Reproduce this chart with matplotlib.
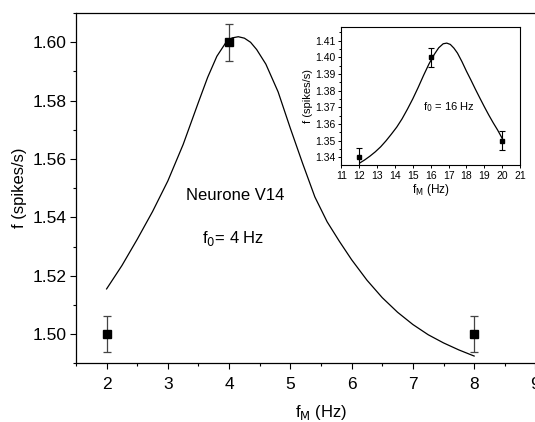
import numpy as np
import matplotlib
matplotlib.use("Agg")
from matplotlib import pyplot as plt
from matplotlib.ticker import MultipleLocator

plt.rcParams['font.family'] = ['Liberation Sans', 'DejaVu Sans']

# main panel: neurone V14, f0 = 4 Hz
fm_main = [2, 4, 8]
f_main = [1.500, 1.600, 1.500]
err_main = [0.0062, 0.0064, 0.0062]

curve_main_x = [2.00, 2.25, 2.50, 2.75, 3.00, 3.25, 3.50, 3.65, 3.80, 3.95, 4.05,
                4.15, 4.25, 4.35, 4.45, 4.60, 4.80, 5.00, 5.20, 5.40, 5.60, 5.80,
                6.00, 6.25, 6.50, 6.75, 7.00, 7.25, 7.50, 7.75, 8.00]
curve_main_y = [1.5155, 1.5235, 1.5325, 1.5420, 1.5525, 1.5650, 1.5795, 1.5880,
                1.5952, 1.6000, 1.6015, 1.6019, 1.6014, 1.6000, 1.5975, 1.5925,
                1.5830, 1.5705, 1.5585, 1.5470, 1.5385, 1.5318, 1.5255, 1.5185,
                1.5125, 1.5075, 1.5033, 1.4998, 1.4970, 1.4946, 1.4925]

# inset: f0 = 16 Hz
fm_ins = [12, 16, 20]
f_ins = [1.340, 1.400, 1.350]
err_ins = [0.0058, 0.0056, 0.0056]

curve_ins_x = [12.03, 12.3, 12.6, 12.9, 13.2, 13.5, 13.8, 14.1, 14.4, 14.7, 15.0,
               15.3, 15.6, 15.9, 16.2, 16.45, 16.7, 16.9, 17.1, 17.3, 17.5, 17.75,
               18.0, 18.25, 18.5, 18.75, 19.0, 19.25, 19.5, 19.75, 20.0]
curve_ins_y = [1.3367, 1.3385, 1.3408, 1.3434, 1.3464, 1.3500, 1.3540, 1.3582,
               1.3632, 1.3690, 1.3752, 1.3820, 1.3892, 1.3960, 1.4018, 1.4058,
               1.4082, 1.4086, 1.4078, 1.4056, 1.4026, 1.3975, 1.3918, 1.3865,
               1.3810, 1.3757, 1.3705, 1.3655, 1.3608, 1.3564, 1.3515]

fig = plt.figure(figsize=(5.35, 4.22), dpi=100)

####################################
#   main axes
####################################
ax = fig.add_axes([0.142, 0.139, 0.916, 0.830])
ax.plot(curve_main_x, curve_main_y, color='black', lw=0.9)
ax.errorbar(fm_main, f_main, yerr=err_main, fmt='s', color='black', ms=5.5,
            ecolor='#444444', elinewidth=0.9, capsize=3, capthick=0.9)
ax.set_xlim(1.5, 9.5)
ax.set_ylim(1.49, 1.61)
ax.xaxis.set_major_locator(MultipleLocator(1))
ax.xaxis.set_minor_locator(MultipleLocator(0.5))
ax.yaxis.set_major_locator(MultipleLocator(0.02))
ax.yaxis.set_minor_locator(MultipleLocator(0.01))
ax.yaxis.set_major_formatter(plt.FormatStrFormatter('%.2f'))
ax.tick_params(which='major', direction='out', length=4, width=0.8, labelsize=12.5)
ax.tick_params(axis='x', which='major', pad=6)
ax.tick_params(axis='y', which='major', pad=3)
ax.tick_params(which='minor', direction='out', length=2.5, width=0.8)
for s in ax.spines.values():
    s.set_linewidth(0.9)
ax.set_xlabel(r'f$_{\rm M}$ (Hz)', fontsize=12, labelpad=8)
ax.set_ylabel('f (spikes/s)', fontsize=12, labelpad=4)
ax.text(3.29, 1.5476, 'Neurone V14', fontsize=12, va='center', ha='left')
ax.text(3.55, 1.5328, r'f$_0$= 4 Hz', fontsize=12, va='center', ha='left')

####################################
#   inset
####################################
narrow = ['Liberation Sans Narrow', 'Liberation Sans', 'DejaVu Sans']
ins = fig.add_axes([0.638, 0.609, 0.334, 0.326])
ins.plot(curve_ins_x, curve_ins_y, color='black', lw=0.9)
ins.errorbar(fm_ins, f_ins, yerr=err_ins, fmt='s', color='black', ms=3,
             ecolor='black', elinewidth=0.8, capsize=2, capthick=0.8)
ins.set_xlim(11, 21)
ins.set_ylim(1.3355, 1.418)
ins.xaxis.set_major_locator(MultipleLocator(1))
ins.yaxis.set_major_locator(MultipleLocator(0.01))
ins.yaxis.set_minor_locator(MultipleLocator(0.005))
ins.yaxis.set_major_formatter(plt.FormatStrFormatter('%.2f'))
ins.tick_params(which='major', direction='out', length=2.5, width=0.7, labelsize=7.5, pad=1.5)
ins.tick_params(which='minor', direction='out', length=1.5, width=0.7)
for lab in ins.get_xticklabels() + ins.get_yticklabels():
    lab.set_family(narrow)
for s in ins.spines.values():
    s.set_linewidth(0.8)
ins.set_xlabel(r'f$_{\rm M}$ (Hz)', fontsize=8.5, labelpad=1)
ins.set_ylabel('f (spikes/s)', fontsize=8, labelpad=2, family=narrow)
ins.text(15.59, 1.370, r'f$_0$ = 16 Hz', fontsize=8, va='center', ha='left')

fig.savefig('out.png', dpi=100)
